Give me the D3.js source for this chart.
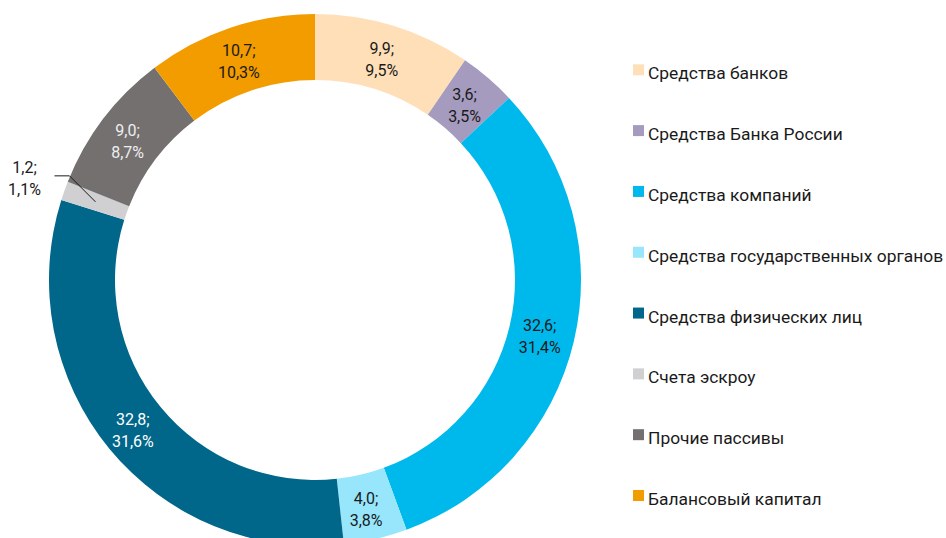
<!DOCTYPE html>
<html>
<head>
<meta charset="utf-8">
<script src="https://cdn.jsdelivr.net/npm/d3@7"></script>
<style>
  body { margin: 0; background: #fff; }
  svg { display: block; }
  .lbl { font-family: Roboto, "Noto Sans", sans-serif; font-size: 16px; }
  .legend text { font-family: Roboto, "Noto Sans", sans-serif; font-size: 17.4px; fill: #1a1a1a; }
</style>
</head>
<body>
<div id="chart"></div>
<script>
// DATA
const categories = [
  "Средства банков",
  "Средства Банка России",
  "Средства компаний",
  "Средства государственных органов",
  "Средства физических лиц",
  "Счета эскроу",
  "Прочие пассивы",
  "Балансовый капитал"
];
const values = [9.9, 3.6, 32.6, 4.0, 32.8, 1.2, 9.0, 10.7];
const shares = ["9,5%", "3,5%", "31,4%", "3,8%", "31,6%", "1,1%", "8,7%", "10,3%"];
const colors = ["#ffdfb8", "#a59bbf", "#00b9ec", "#97e6fc", "#00668a", "#d0cfd1", "#747070", "#f29c00"];
const labelColors = ["#1a1a1a", "#1a1a1a", "#1a1a1a", "#1a1a1a", "#ffffff", "#1a1a1a", "#eeeeee", "#1a1a1a"];

const fmt = v => v.toFixed(1).replace(".", ",");

// canvas
const svgWidth = 946;
const svgHeight = 538;
const center = {x: 315, y: 280};
const outerR = 266;
const innerR = 200;

const svg = d3.select("#chart")
  .append("svg")
  .attr("width", svgWidth)
  .attr("height", svgHeight);

const data = categories.map((c, i) => ({name: c, value: values[i], share: shares[i], color: colors[i], textColor: labelColors[i]}));

const pie = d3.pie()
  .value(d => d.value)
  .sort(null);

const arc = d3.arc()
  .innerRadius(innerR)
  .outerRadius(outerR);

const labelArc = d3.arc()
  .innerRadius(233)
  .outerRadius(233);

const arcs = pie(data);

const chartGroup = svg.append("g")
  .attr("transform", `translate(${center.x}, ${center.y})`);

chartGroup.selectAll("path")
  .data(arcs)
  .enter()
  .append("path")
  .attr("d", arc)
  .attr("fill", d => d.data.color);

// labels inside the ring (escrow is too thin, it gets an outside label)
const inside = arcs.filter(d => d.data.name !== "Счета эскроу");

const labels = chartGroup.selectAll("text.lbl")
  .data(inside)
  .enter()
  .append("text")
  .attr("class", "lbl")
  .attr("text-anchor", "middle")
  .attr("fill", d => d.data.textColor);

labels.append("tspan")
  .attr("x", d => labelArc.centroid(d)[0] - 2)
  .attr("y", d => labelArc.centroid(d)[1] - 3)
  .text(d => fmt(d.data.value) + ";");

labels.append("tspan")
  .attr("x", d => labelArc.centroid(d)[0] - 2)
  .attr("y", d => labelArc.centroid(d)[1] + 19)
  .text(d => d.data.share);

// escrow label with leader line
const escrow = arcs.find(d => d.data.name === "Счета эскроу");
const [ex, ey] = labelArc.centroid(escrow);
const elbow = [ex - 26, ey - 26];
const lineEnd = [elbow[0] - 15, elbow[1]];

chartGroup.append("polyline")
  .attr("points", [[ex, ey], elbow, lineEnd].map(p => p.join(",")).join(" "))
  .attr("fill", "none")
  .attr("stroke", "#1a1a1a")
  .attr("stroke-width", 1);

const escrowText = chartGroup.append("text")
  .attr("class", "lbl")
  .attr("text-anchor", "middle")
  .attr("fill", "#1a1a1a");

escrowText.append("tspan")
  .attr("x", lineEnd[0] - 30)
  .attr("y", lineEnd[1] - 3)
  .text(fmt(escrow.data.value) + ";");

escrowText.append("tspan")
  .attr("x", lineEnd[0] - 30)
  .attr("y", lineEnd[1] + 19)
  .text(escrow.data.share);

// Legend
const legendY = d3.scaleLinear()
  .domain([0, categories.length - 1])
  .range([64.3, 490]);

const legend = svg.append("g")
  .attr("class", "legend")
  .selectAll("g")
  .data(data)
  .enter()
  .append("g")
  .attr("transform", (d, i) => `translate(633, ${legendY(i)})`);

legend.append("rect")
  .attr("width", 11)
  .attr("height", 11)
  .attr("fill", d => d.color);

legend.append("text")
  .attr("x", 15)
  .attr("y", 15)
  .text(d => d.name);
</script>
</body>
</html>
